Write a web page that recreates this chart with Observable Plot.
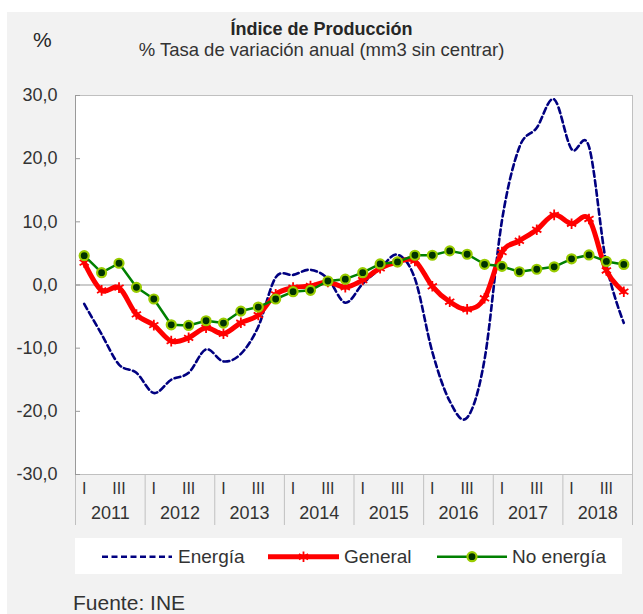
<!DOCTYPE html>
<html>
<head>
<meta charset="utf-8">
<script src="https://cdn.jsdelivr.net/npm/d3@7"></script>
<script src="https://cdn.jsdelivr.net/npm/@observablehq/plot@0.6"></script>
<style>
  body { margin: 0; background: #ffffff; }
  #wrap { position: relative; width: 643px; height: 614px; overflow: hidden;
          font-family: "Liberation Sans", Arial, sans-serif; color: #333333; }
  #panel { position: absolute; left: 7px; top: 12px; right: 0; bottom: 0; background: #f2f2f2; }
  #pct { position: absolute; left: 33px; top: 28px; font-size: 21px; line-height: 23px; color: #262626; }
  #title { position: absolute; left: 0; width: 643px; top: 19px; text-align: center;
           font-size: 18px; line-height: 20px; font-weight: bold; color: #262626; }
  #subtitle { position: absolute; left: 0; width: 643px; top: 40px; text-align: center;
              font-size: 18.5px; line-height: 19px; color: #333333; }
  #chart { position: absolute; left: 0; top: 70px; }
  #legend { position: absolute; left: 75px; top: 538px; width: 547px; height: 36px; background: #ffffff; }
  #source { position: absolute; left: 73px; top: 591px; font-size: 21px; line-height: 23px; color: #333333; }
</style>
</head>
<body>
<div id="wrap">
  <div id="panel"></div>
  <div id="pct">%</div>
  <div id="title">Índice de Producción</div>
  <div id="subtitle">% Tasa de variación anual (mm3 sin centrar)</div>
  <div id="chart"></div>
  <div id="legend"></div>
  <div id="source">Fuente: INE</div>
</div>
<script>
// ---- data ----
const years = [2011, 2012, 2013, 2014, 2015, 2016, 2017, 2018];
const quarters = ["I", "II", "III", "IV"];
const quarterTickLabels = ["I", "III"];
const yTicks = [-30, -20, -10, 0, 10, 20, 30];
const seriesNames = ["Energía", "General", "No energía"];

const energia = [
  -3.0, -7.8, -12.6, -13.9,
  -17.1, -15.0, -13.9, -10.2,
  -12.1, -10.9, -6.6, 1.2,
  1.6, 2.4, 1.0, -2.8,
  0.2, 2.6, 4.8, 1.0,
  -10.6, -18.4, -21.0, -11.8,
  10.2, 21.8, 24.9, 29.4,
  21.5, 21.9, 3.3, -6.0
];
const general = [
  3.55, -0.85, -0.42, -4.66,
  -6.35, -8.89, -8.36, -6.77,
  -7.72, -5.98, -4.76, -1.48,
  -0.42, -0.16, 0.48, -0.35,
  0.79, 2.65, 3.65, 3.81,
  -0.2, -2.65, -3.85, -2.1,
  5.2, 7.0, 8.75, 11.1,
  9.7, 10.45, 2.3, -1.06
];
const noEnergia = [
  4.65, 1.95, 3.44, -0.37,
  -2.22, -6.3, -6.4, -5.66,
  -6.03, -4.13, -3.49, -2.22,
  -1.06, -0.85, 0.63, 0.92,
  1.95, 3.33, 3.65, 4.71,
  4.71, 5.4, 4.87, 3.28,
  2.95, 2.1, 2.49, 2.88,
  4.15, 4.76, 3.73, 3.25
];

// ---- styles ----
const colEnergia = "#000080", colGeneral = "#ff0000", colNoE = "#008000";
const dotFill = "#003300", dotStroke = "#99cc00";
const font = '"Liberation Sans", Arial, sans-serif';

// ---- derived tables ----
const rows = energia.map((e, i) => ({
  i, year: years[Math.floor(i / quarters.length)], q: quarters[i % quarters.length],
  energia: e, general: general[i], noEnergia: noEnergia[i]
}));
const qRows = rows.filter(d => quarterTickLabels.includes(d.q));
const yearRows = years.map((y, k) => ({ year: String(y), center: k * quarters.length + (quarters.length - 1) / 2 }));
const seps = d3.range(years.length + 1).map(k => k * quarters.length - 0.5);
const yMin = d3.min(yTicks), yMax = d3.max(yTicks);
const fmt = d => d.toFixed(1).replace(".", ",");

const chart = Plot.plot({
  width: 643, height: 466,
  marginTop: 25, marginBottom: 62, marginLeft: 75, marginRight: 11,
  style: { background: "transparent", fontFamily: font, fontSize: "18px", color: "#333333", overflow: "visible" },
  x: { domain: [-0.5, rows.length - 0.5], axis: null },
  y: { domain: [yMin, yMax], ticks: yTicks, tickFormat: fmt, tickSize: 0, tickPadding: 18, label: null },
  marks: [
    Plot.frame({ fill: "white", stroke: "#c0c0c0" }),
    Plot.ruleX(seps, { x: d => d, y1: yMin, y2: yMin, insetBottom: -51, stroke: "#c0c0c0" }),
    Plot.ruleX([-0.5], { x: d => d, stroke: "#9a9a9a" }),
    Plot.ruleY(yTicks, { y: d => d, x1: -0.5, x2: -0.5, insetRight: -5, stroke: "#9a9a9a" }),
    Plot.ruleY([0], { y: d => d, stroke: "#9a9a9a", strokeWidth: 1.2 }),
    Plot.text(qRows, { x: "i", y: yMin, text: "q", dy: 14, fontSize: 16, fill: "#333333" }),
    Plot.text(yearRows, { x: "center", y: yMin, text: "year", dy: 39, fontSize: 18, fill: "#333333" }),
    Plot.line(rows, { x: "i", y: "energia", stroke: colEnergia, strokeWidth: 2.6, strokeDasharray: "6,3.5", curve: "cardinal" }),
    Plot.line(rows, { x: "i", y: "general", stroke: colGeneral, strokeWidth: 5, curve: "cardinal" }),
    Plot.dot(rows, { x: "i", y: "general", symbol: "asterisk", r: 5, stroke: colGeneral, strokeWidth: 1.8 }),
    Plot.line(rows, { x: "i", y: "noEnergia", stroke: colNoE, strokeWidth: 2.5 }),
    Plot.dot(rows, { x: "i", y: "noEnergia", r: 4.5, fill: dotFill, stroke: dotStroke, strokeWidth: 2.2 })
  ]
});
document.getElementById("chart").appendChild(chart);

// ---- legend ----
const lg = d3.select("#legend").append("svg").attr("width", 547).attr("height", 36)
  .style("font-family", font).style("font-size", "19px");
const cy = 18.7;
const items = [
  { name: seriesNames[0], x0: 27, x1: 97, tx: 103 },
  { name: seriesNames[1], x0: 193, x1: 264, tx: 269 },
  { name: seriesNames[2], x0: 362, x1: 432, tx: 437 }
];
lg.append("line").attr("x1", items[0].x0).attr("x2", items[0].x1).attr("y1", cy).attr("y2", cy)
  .attr("stroke", colEnergia).attr("stroke-width", 2.6).attr("stroke-dasharray", "6,3.5");
lg.append("line").attr("x1", items[1].x0).attr("x2", items[1].x1).attr("y1", cy).attr("y2", cy)
  .attr("stroke", colGeneral).attr("stroke-width", 5);
lg.append("path").attr("d", d3.symbol(d3.symbolAsterisk, 25 * Math.PI)())
  .attr("transform", `translate(${(items[1].x0 + items[1].x1) / 2},${cy})`)
  .attr("fill", "none").attr("stroke", colGeneral).attr("stroke-width", 1.8);
lg.append("line").attr("x1", items[2].x0).attr("x2", items[2].x1).attr("y1", cy).attr("y2", cy)
  .attr("stroke", colNoE).attr("stroke-width", 2.5);
lg.append("circle").attr("cx", (items[2].x0 + items[2].x1) / 2).attr("cy", cy).attr("r", 4.5)
  .attr("fill", dotFill).attr("stroke", dotStroke).attr("stroke-width", 2.2);
lg.selectAll("text.lbl").data(items).join("text").attr("class", "lbl")
  .attr("x", d => d.tx).attr("y", cy).attr("dy", "0.35em").attr("fill", "#333333").text(d => d.name);
</script>
</body>
</html>
